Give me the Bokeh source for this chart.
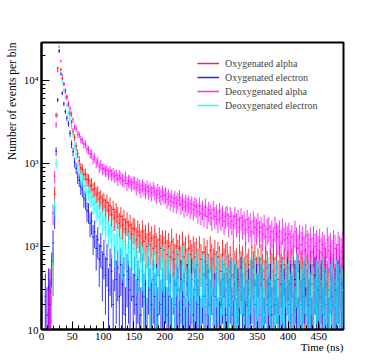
import numpy as np
from bokeh.plotting import figure
from bokeh.models import Range1d, FixedTicker, Legend, LegendItem, Title
from bokeh.embed import file_html
from bokeh.resources import INLINE

# ---------------- data (2.5 ns bins from 0 to 490 ns) ----------------
bin_width = 2.5
t_start = 0.0
t_end = 490.0
weight = 20  # events per raw count (sets error-bar size: err = sqrt(weight*N))

labels = ["Oxygenated alpha", "Oxygenated electron", "Deoxygenated alpha", "Deoxygenated electron"]
colors = ["#ff0000", "#0000ff", "#ff00ff", "#00ffff"]

oxy_alpha = [
    0, 0, 0, 0, 16, 28, 52, 60, 430, 3800, 14000, 22000, 13500, 10500, 9000, 7600, 6400, 5100, 4000, 3100,
    2450, 2050, 1600, 1320, 1080, 880, 850, 730, 740, 640, 630, 540, 560, 480, 500, 420, 440, 370, 390, 340,
    360, 300, 340, 270, 310, 240, 280, 220, 260, 230, 190, 230, 180, 210, 160, 195, 150, 180, 140, 165,
    160, 120, 150, 135, 110, 150, 115, 130, 100, 140, 105, 125, 95, 130, 100, 85, 120, 95, 110, 90,
    110, 80, 100, 75, 115, 85, 70, 100, 80, 95, 65, 105, 75, 90, 60, 95, 80, 70, 90, 75,
    85, 60, 90, 70, 55, 85, 65, 80, 50, 90, 70, 60, 80, 55, 75, 65, 50, 80, 60, 70,
    75, 50, 65, 45, 80, 55, 60, 40, 70, 55, 65, 45, 75, 50, 60, 40, 65, 55, 70, 45,
    60, 45, 70, 50, 40, 65, 55, 35, 60, 50, 70, 45, 55, 40, 65, 50, 45, 60, 35, 55,
    55, 40, 60, 45, 35, 65, 50, 40, 55, 45, 30, 60, 50, 40, 55, 35, 60, 45, 50, 40,
    55, 35, 50, 45, 60, 40, 30, 55, 45, 50, 35, 60, 40, 50, 45, 55,
]

oxy_electron = [
    0, 0, 25, 15, 30, 20, 40, 110, 230, 1400, 5800, 23000, 12000, 7000, 5200, 4200, 3500, 3000, 2300, 1700,
    1380, 1030, 870, 680, 630, 520, 490, 380, 360, 270, 260, 190, 200, 130, 150, 95, 120, 70, 100, 55,
    80, 45, 70, 30, 60, 50, 20, 65, 40, 55, 25, 60, 35, 45, 15, 50, 40, 30, 55, 25,
    45, 20, 40, 30, 15, 50, 25, 35, 10, 45, 30, 20, 40, 25, 35, 15, 45, 20, 30, 25,
    40, 15, 30, 25, 10, 45, 20, 35, 30, 15, 40, 20, 25, 10, 35, 30, 20, 40, 15, 30,
    35, 20, 30, 10, 40, 25, 15, 35, 30, 20, 45, 15, 25, 30, 10, 35, 20, 40, 25, 15,
    30, 20, 40, 15, 25, 35, 10, 30, 20, 45, 25, 15, 35, 20, 30, 10, 40, 25, 20, 35,
    25, 15, 35, 30, 10, 40, 20, 25, 35, 15, 30, 20, 40, 10, 25, 35, 20, 30, 15, 45,
    20, 35, 25, 15, 40, 30, 10, 35, 20, 25, 40, 15, 30, 20, 35, 10, 25, 45, 20, 30,
    25, 40, 15, 30, 20, 35, 10, 45, 25, 20, 30, 15, 40, 25, 35, 20,
]

deoxy_alpha = [
    0, 0, 22, 0, 14, 30, 40, 250, 700, 2900, 13000, 25500, 17000, 11500, 9000, 7200, 6100, 5300, 4600, 3900,
    3350, 2750, 2600, 2250, 2200, 1950, 1900, 1700, 1700, 1480, 1450, 1300, 1290, 1120, 1180, 1010, 1060, 900, 960, 850,
    870, 810, 830, 750, 800, 730, 760, 700, 720, 650, 710, 670, 640, 620, 680, 570, 620, 600, 560, 590,
    580, 510, 560, 530, 480, 540, 500, 470, 520, 460, 490, 440, 500, 450, 420, 470, 430, 400, 450, 410,
    420, 370, 400, 350, 390, 340, 380, 330, 360, 390, 320, 350, 300, 340, 310, 330, 290, 320, 280, 310,
    300, 260, 310, 250, 280, 240, 300, 230, 270, 250, 220, 280, 230, 250, 210, 260, 220, 240, 200, 230,
    240, 190, 230, 200, 180, 230, 190, 210, 170, 220, 180, 200, 160, 210, 170, 190, 150, 200, 170, 160,
    190, 150, 170, 140, 180, 130, 160, 170, 130, 150, 120, 170, 140, 130, 150, 110, 160, 120, 140, 125,
    140, 110, 130, 100, 150, 120, 95, 130, 105, 125, 90, 135, 110, 100, 120, 85, 125, 100, 110, 90,
    115, 85, 105, 95, 75, 120, 90, 100, 80, 110, 95, 70, 105, 90, 85, 100,
]

deoxy_electron = [
    0, 0, 0, 0, 0, 0, 15, 60, 300, 1000, 3800, 25000, 12500, 9600, 7600, 6300, 5000, 4100, 3500, 2800,
    2250, 1650, 1280, 920, 830, 680, 640, 540, 530, 450, 450, 380, 390, 320, 330, 270, 290, 230, 250, 200,
    220, 170, 190, 150, 165, 120, 155, 100, 135, 110, 90, 125, 80, 115, 95, 70, 105, 85, 60, 95,
    90, 60, 85, 45, 75, 65, 40, 80, 55, 70, 35, 75, 50, 60, 30, 70, 55, 45, 65, 40,
    70, 40, 60, 30, 65, 50, 25, 60, 45, 55, 20, 65, 40, 50, 30, 55, 45, 25, 60, 40,
    55, 35, 60, 25, 50, 40, 20, 55, 45, 30, 60, 35, 15, 50, 40, 55, 25, 45, 35, 50,
    50, 30, 45, 20, 55, 40, 35, 15, 50, 30, 45, 25, 55, 35, 20, 45, 40, 30, 50, 25,
    45, 25, 50, 35, 15, 40, 30, 45, 20, 50, 35, 25, 40, 15, 45, 30, 40, 20, 50, 35,
    40, 25, 45, 30, 15, 50, 35, 20, 40, 30, 45, 10, 35, 40, 25, 45, 30, 20, 40, 35,
    40, 20, 45, 30, 25, 40, 15, 35, 45, 30, 20, 40, 35, 25, 45, 30,
]

series = [oxy_alpha, oxy_electron, deoxy_alpha, deoxy_electron]

x_ticks = [0, 50, 100, 150, 200, 250, 300, 350, 400, 450]
y_ticks = [10, 100, 1000, 10000]
y_tick_text = {10: "10", 100: "10\u00b2", 1000: "10\u00b3", 10000: "10\u2074"}

y_min, y_max = 10, 28500
FONT = "Liberation Serif"

# ---------------- figure ----------------
p = figure(width=368, height=359, output_backend="svg", toolbar_location=None,
           y_axis_type="log",
           x_range=Range1d(t_start, t_end), y_range=Range1d(y_min, y_max),
           min_border_left=41, min_border_right=25, min_border_top=42, min_border_bottom=30)
p.grid.visible = False
p.background_fill_color = "white"
p.border_fill_color = "white"
p.outline_line_color = "black"
p.outline_line_width = 2
p.outline_line_alpha = 1.0

n_bins = int(round((t_end - t_start) / bin_width))
centers = t_start + bin_width * (np.arange(n_bins) + 0.5)

dummies = []
for vals, col in zip(series, colors):
    v = np.asarray(vals, dtype=float)
    assert len(v) == n_bins
    m = v > 0
    x = centers[m]
    vv = v[m]
    err = np.sqrt(weight * vv)
    lo = np.maximum(vv - err, 1.0)
    hi = vv + err
    p.segment(x0=x, y0=lo, x1=x, y1=hi, line_color=col, line_width=1, line_alpha=0.8)
    p.segment(x0=x - bin_width / 2, y0=vv, x1=x + bin_width / 2, y1=vv,
              line_color=col, line_width=1.2, line_alpha=0.9)
    # off-range sample line, used only for the legend entry
    dummies.append(p.line(x=[-20, -10], y=[1, 1], line_color=col, line_width=1.5, line_alpha=0.85))

# axes
p.xaxis.ticker = FixedTicker(ticks=x_ticks, minor_ticks=list(range(0, 491, 10)))
minor_y = [m * 10 ** k for k in range(1, 5) for m in range(2, 10) if m * 10 ** k <= y_max]
p.yaxis.ticker = FixedTicker(ticks=y_ticks, minor_ticks=minor_y)
p.yaxis.major_label_overrides = y_tick_text
for ax in (p.xaxis, p.yaxis):
    ax.axis_line_color = "black"
    ax.axis_line_width = 2
    ax.major_tick_in = 8
    ax.major_tick_out = 0
    ax.minor_tick_in = 4
    ax.minor_tick_out = 0
    ax.major_tick_line_color = "black"
    ax.minor_tick_line_color = "black"
    ax.major_label_text_font = FONT
    ax.major_label_text_font_size = "11px"
    ax.major_label_text_color = "black"
p.xaxis.major_label_standoff = 3
p.yaxis.major_label_standoff = 3

# axis titles (ROOT style: right/top aligned)
p.add_layout(Title(text="Time (ns)", align="right", text_font=FONT, text_font_size="11px",
                   text_font_style="normal", text_color="black", standoff=-7, offset=0), "below")
p.add_layout(Title(text="Number of events per bin", align="right", text_font=FONT,
                   text_font_size="11.5px", text_font_style="normal", text_color="black",
                   standoff=5, offset=0), "left")

legend = Legend(items=[LegendItem(label=l, renderers=[r]) for l, r in zip(labels, dummies)],
                location=(156, 217), padding=0, margin=0, spacing=0,
                glyph_width=22, glyph_height=14, label_height=14, label_standoff=6,
                label_text_font=FONT, label_text_font_size="10px",
                border_line_color=None, background_fill_alpha=0)
p.add_layout(legend)

open("out.html", "w").write(file_html(p, INLINE))
